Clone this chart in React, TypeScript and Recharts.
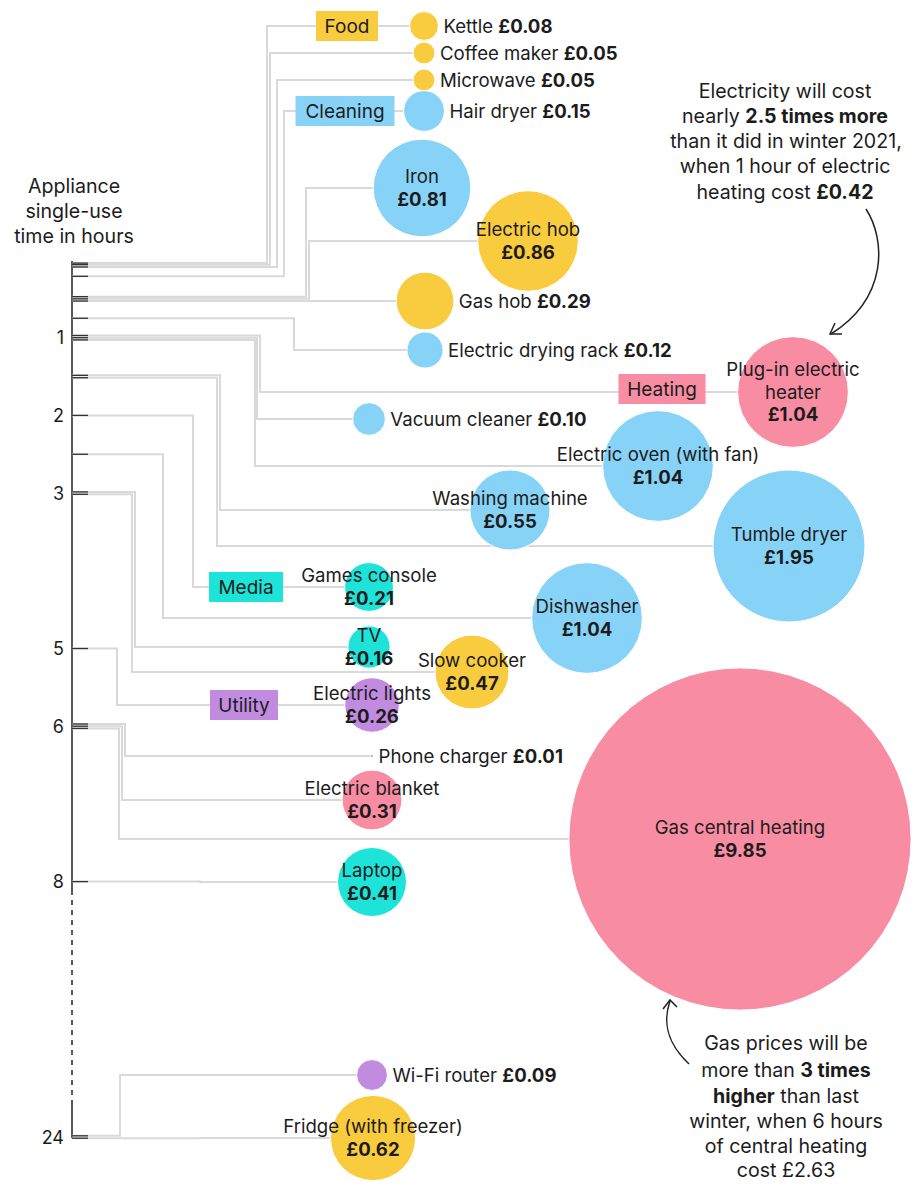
import React from 'react';
import { ScatterChart, Scatter, XAxis, YAxis, ZAxis, ReferenceLine } from 'recharts';

const FONT = 'Inter, Roboto, "Noto Sans", sans-serif';
const INK = '#1c1c1c';
const LINE = '#d9d9d9';
const LABEL_SIZE = 18.6;
const NOTE_SIZE = 19.6;

// categories
const categories = ['Food', 'Cleaning', 'Heating', 'Media', 'Utility'];
const categoryColors = ['#F9CB3F', '#87D3F7', '#F78CA2', '#1DE3D9', '#C18CE0'];

// appliances, cost per single use (£) and single-use time (hours)
const appliances = [
  'Kettle', 'Coffee maker', 'Microwave', 'Hair dryer', 'Iron', 'Electric hob', 'Gas hob',
  'Electric drying rack', 'Plug-in electric heater', 'Vacuum cleaner', 'Electric oven (with fan)',
  'Washing machine', 'Tumble dryer', 'Games console', 'Dishwasher', 'TV', 'Slow cooker',
  'Electric lights', 'Phone charger', 'Electric blanket', 'Gas central heating', 'Laptop',
  'Wi-Fi router', 'Fridge (with freezer)',
];
const costs = [
  0.08, 0.05, 0.05, 0.15, 0.81, 0.86, 0.29, 0.12, 1.04, 0.1, 1.04, 0.55, 1.95, 0.21, 1.04,
  0.16, 0.47, 0.26, 0.01, 0.31, 9.85, 0.41, 0.09, 0.62,
];
const hours = [
  0.04, 0.06, 0.09, 0.21, 0.5, 0.5, 0.5, 0.75, 1, 1, 1, 1.5, 1.5, 2, 2.5, 3, 3, 5, 6, 6, 6, 8, 24, 24,
];
const groups = [
  'Food', 'Food', 'Food', 'Cleaning', 'Cleaning', 'Food', 'Food', 'Cleaning', 'Heating', 'Cleaning',
  'Cleaning', 'Cleaning', 'Cleaning', 'Media', 'Cleaning', 'Media', 'Food', 'Utility', 'Utility',
  'Heating', 'Heating', 'Media', 'Utility', 'Food',
];
const hourTicks = [1, 2, 3, 5, 6, 8, 24];

// layout of the bubble pack (page units)
const bubbleX = [424, 424, 424, 424, 422, 528, 425, 425, 793, 369, 658, 510, 789, 369, 587, 369, 472, 372, 372, 372, 740, 372, 372, 373];
const bubbleY = [26, 53, 80, 111, 188, 241, 301, 350, 392, 419, 466, 510, 546, 587, 618, 647, 672, 705, 756, 800, 839, 882, 1075, 1138];
const elbowX = [267, 270, 277, 284, 306, 309, 320, 294, 260, 257, 255, 220, 217, 193, 163, 135, 132, 117, 125, 122, 119, 200, 120, 200];
const lane = [0, 0, 0, 0, -2.2, 0, 2.2, 0, -2.2, 0, 2.2, -1.2, 1.2, 0, 0, -1.2, 1.2, 0, -2.2, 0, 2.2, 0, -1.2, 1.2];
const labelSide = ['right', 'right', 'right', 'right', 'in', 'in', 'right', 'right', 'in', 'right', 'in', 'in', 'in', 'in', 'in', 'in', 'in', 'in', 'right', 'in', 'in', 'in', 'right', 'in'];
const catX = [347, 345, 662, 246, 244];
const catY = [26, 111, 389, 587, 705];
const catW = [62, 99, 87, 74, 68];

const wrapped: Record<string, string[]> = { 'Plug-in electric heater': ['Plug-in electric', 'heater'] };

// hours -> vertical page position, with the axis break before 24
const AXIS_X = 72;
const AXIS_TOP = 260;
const PX_PER_HOUR = 77.7;
const BREAK_ROW = 1137;
const hourToY = (h: number) => (h > 8 ? BREAK_ROW : AXIS_TOP + PX_PER_HOUR * h);

const colorOf = (g: string) => categoryColors[categories.indexOf(g)];
const fmt = (v: number) => `£${v.toFixed(2)}`;
const radiusOf = (p: any) => {
  const s = typeof p.size === 'number' ? p.size : 0;
  return Math.sqrt(Math.max(s, 0) / Math.PI);
};

const rows = appliances.map((name, i) => ({
  name,
  x: bubbleX[i],
  y: bubbleY[i],
  cost: costs[i],
  color: colorOf(groups[i]),
  side: labelSide[i],
}));

const connector = (i: number) => {
  const ty = hourToY(hours[i]) + lane[i];
  return [
    { x: AXIS_X, y: ty },
    { x: elbowX[i], y: ty },
    { x: elbowX[i], y: bubbleY[i] },
    { x: bubbleX[i], y: bubbleY[i] },
  ];
};

const tickRows = appliances.map((_, i) => ({ x: AXIS_X, y: hourToY(hours[i]) + lane[i] }));
const catRows = categories.map((name, i) => ({ name, x: catX[i], y: catY[i], w: catW[i], color: categoryColors[i] }));

const Empty = () => <g />;

const TickMark = (p: any) => (
  <line x1={p.cx} x2={p.cx + 16} y1={p.cy} y2={p.cy} stroke="#333" strokeWidth={1.3} />
);

const CategoryBox = (p: any) => {
  const { cx, cy, payload } = p;
  return (
    <g>
      <rect x={cx - payload.w / 2} y={cy - 15} width={payload.w} height={30} fill={payload.color} />
      <text x={cx} y={cy + 6.5} textAnchor="middle" fontSize={19} fill={INK} fontFamily={FONT}>
        {payload.name}
      </text>
    </g>
  );
};

const Bubble = (p: any) => {
  const r = Math.max(radiusOf(p), 1.5);
  return <circle cx={p.cx} cy={p.cy} r={r} fill={p.payload.color} stroke="#fff" strokeWidth={1} />;
};

const BubbleLabel = (p: any) => {
  const { cx, cy, payload } = p;
  const r = radiusOf(p);
  if (payload.side === 'right') {
    return (
      <text x={cx + Math.max(r, 1.5) + 5} y={cy + 6.5} fontSize={LABEL_SIZE} fill={INK} fontFamily={FONT}>
        {payload.name}{' '}
        <tspan fontWeight={700}>{fmt(payload.cost)}</tspan>
      </text>
    );
  }
  const lines = wrapped[payload.name] ?? [payload.name];
  const n = lines.length + 1;
  const start = cy - ((n - 1) * 22.5) / 2;
  return (
    <g fontFamily={FONT} fontSize={LABEL_SIZE} fill={INK} textAnchor="middle">
      {lines.map((l, k) => (
        <text key={k} x={cx} y={start + k * 22.5 + 6.5}>{l}</text>
      ))}
      <text x={cx} y={start + lines.length * 22.5 + 6.5} fontWeight={700}>{fmt(payload.cost)}</text>
    </g>
  );
};

const AxisTick = (p: any) => {
  const { y, payload } = p;
  const idx = hourTicks.findIndex((h) => Math.abs(hourToY(h) - payload.value) < 0.01);
  return (
    <text x={64} y={y + 6.5} textAnchor="end" fontSize={18} fill={INK} fontFamily={FONT}>
      {idx >= 0 ? hourTicks[idx] : ''}
    </text>
  );
};

export default function App() {
  return (
    <div style={{ position: 'relative', width: 915, height: 1192, background: '#fff', fontFamily: FONT }}>
      <style>{'body{margin:0}'}</style>
      <ScatterChart width={915} height={1192} margin={{ top: 0, right: 0, bottom: 0, left: 0 }}>
        <XAxis type="number" dataKey="x" domain={[70, 915]} hide />
        <YAxis
          type="number"
          dataKey="y"
          domain={[0, 1192]}
          reversed
          width={70}
          ticks={hourTicks.map(hourToY)}
          axisLine={false}
          tickLine={false}
          tick={<AxisTick />}
          interval={0}
        />
        <ZAxis type="number" dataKey="cost" domain={[0.025, 10]} range={[0, Math.PI * 2980 * 9.975]} />

        {appliances.map((_, i) => (
          <Scatter
            key={`c${i}`}
            data={connector(i)}
            line={{ stroke: LINE, strokeWidth: 2 }}
            lineType="joint"
            shape={<Empty />}
            isAnimationActive={false}
          />
        ))}
        <Scatter data={tickRows} shape={<TickMark />} isAnimationActive={false} />
        <Scatter data={catRows} shape={<CategoryBox />} isAnimationActive={false} />
        <Scatter data={rows} shape={<Bubble />} isAnimationActive={false} />
        <Scatter data={rows} shape={<BubbleLabel />} isAnimationActive={false} />

        <ReferenceLine segment={[{ x: AXIS_X, y: 261 }, { x: AXIS_X, y: 890 }]} stroke="#222" strokeWidth={1.5} />
        <ReferenceLine segment={[{ x: AXIS_X, y: 890 }, { x: AXIS_X, y: 1100 }]} stroke="#222" strokeWidth={1.5} strokeDasharray="5 5" />
        <ReferenceLine segment={[{ x: AXIS_X, y: 1100 }, { x: AXIS_X, y: 1138 }]} stroke="#222" strokeWidth={1.5} />
      </ScatterChart>

      <svg width={915} height={1192} style={{ position: 'absolute', left: 0, top: 0, pointerEvents: 'none' }}>
        <g fontFamily={FONT} fontSize={NOTE_SIZE} fill={INK} textAnchor="middle">
          <text x={74} y={193}>Appliance</text>
          <text x={74} y={218}>single-use</text>
          <text x={74} y={243}>time in hours</text>

          <text x={785} y={98}>Electricity will cost</text>
          <text x={785} y={123}>nearly <tspan fontWeight={700}>2.5 times more</tspan></text>
          <text x={786} y={148}>than it did in winter 2021,</text>
          <text x={785} y={173}>when 1 hour of electric</text>
          <text x={785} y={199}>heating cost <tspan fontWeight={700}>£0.42</tspan></text>

          <text x={786} y={1050}>Gas prices will be</text>
          <text x={786} y={1077}>more than <tspan fontWeight={700}>3 times</tspan></text>
          <text x={786} y={1103}><tspan fontWeight={700}>higher</tspan> than last</text>
          <text x={786} y={1128}>winter, when 6 hours</text>
          <text x={786} y={1153}>of central heating</text>
          <text x={786} y={1177}>cost £2.63</text>
        </g>
        <g stroke="#222" strokeWidth={1.5} fill="none">
          <path d="M866 209 C886 240 888 298 831 334" />
          <path d="M835 323 L830 334 L842 334" />
          <path d="M689 1064 C668 1044 662 1024 670 1001" />
          <path d="M663 1009 L670 1000 L677 1007" />
        </g>
      </svg>
    </div>
  );
}
